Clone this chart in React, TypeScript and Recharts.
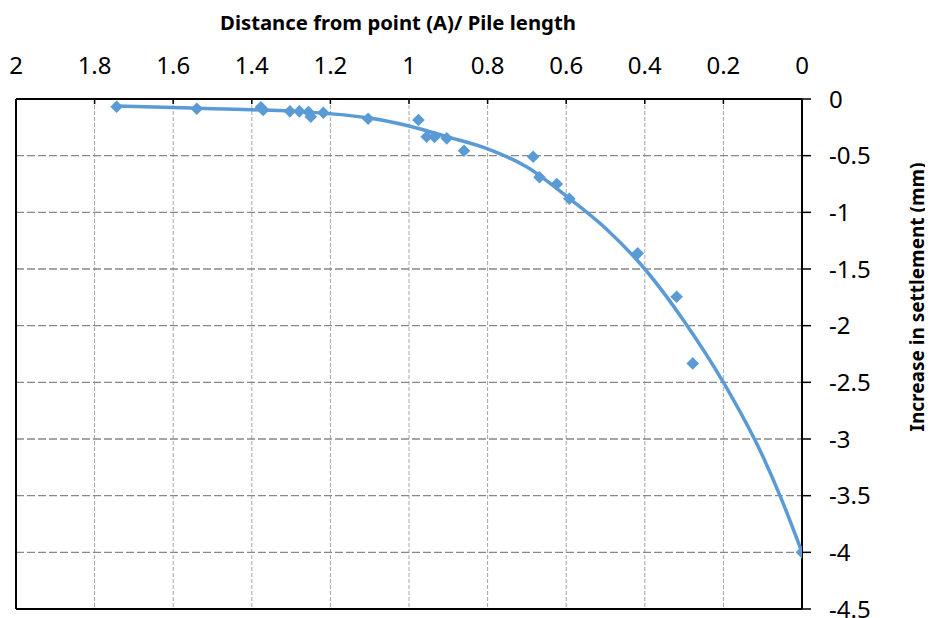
import React from 'react';
import { ComposedChart, XAxis, YAxis, CartesianGrid, Scatter, ReferenceLine } from 'recharts';

// Measured points (distance ratio, settlement increase)
const pointX = [1.744, 1.54, 1.377, 1.371, 1.303, 1.279, 1.256, 1.25, 1.218, 1.104, 0.976, 0.955, 0.935, 0.904, 0.86, 0.684, 0.668, 0.624, 0.592, 0.418, 0.319, 0.278, 0];
const pointY = [-0.068, -0.086, -0.073, -0.097, -0.109, -0.109, -0.115, -0.156, -0.121, -0.174, -0.185, -0.333, -0.335, -0.347, -0.456, -0.509, -0.691, -0.75, -0.88, -1.362, -1.745, -2.333, -4.0];

// Trend curve
const curveX = [1.744, 1.6, 1.5, 1.4, 1.3, 1.2, 1.1, 1.0, 0.9, 0.8, 0.7, 0.6, 0.5, 0.4, 0.3, 0.2, 0.1, 0.05, 0];
const curveY = [-0.062, -0.075, -0.085, -0.095, -0.107, -0.13, -0.168, -0.238, -0.336, -0.44, -0.6, -0.855, -1.14, -1.5, -1.96, -2.5, -3.15, -3.55, -4.0];

const xTicks = [0, 0.2, 0.4, 0.6, 0.8, 1, 1.2, 1.4, 1.6, 1.8, 2];
const yTicks = [0, -0.5, -1, -1.5, -2, -2.5, -3, -3.5, -4, -4.5];

const xTitle = 'Distance from point (A)/ Pile length';
const yTitle = 'Increase in settlement (mm)';

const points = pointX.map((x, i) => ({ x, y: pointY[i] }));
const curve = curveX.map((x, i) => ({ x, y: curveY[i] }));

const BLUE = '#5B9BD5';
const FONT = '"Noto Sans", sans-serif';

const Diamond = (props: any) => {
  const { cx, cy } = props;
  if (cx == null || cy == null) return <g />;
  const r = 6.3;
  return <polygon points={`${cx},${cy - r} ${cx + r},${cy} ${cx},${cy + r} ${cx - r},${cy}`} fill={BLUE} />;
};

const NoShape = () => <g />;

const TopTick = (props: any) => {
  const { x, y, payload } = props;
  return (
    <g>
      <line x1={x} x2={x} y1={y} y2={y + 5} stroke="#000" strokeWidth={1.5} />
      <text x={x} y={y - 25.5} textAnchor="middle" fontFamily={FONT} fontSize={24} fill="#000">
        {String(payload.value)}
      </text>
    </g>
  );
};

const TitleLabel = () => (
  <text x={390} y={21.8} textAnchor="middle" fontFamily={FONT} fontSize={20.3} fontWeight="bold" fill="#000">
    {xTitle}
  </text>
);

const YTitleLabel = () => (
  <text x={0} y={0} textAnchor="middle" dominantBaseline="central" fontFamily={FONT} fontSize={19} fontWeight="bold" fill="#000"
    transform="translate(909,289) rotate(-90)">
    {yTitle}
  </text>
);

export default function App() {
  return (
    <ComposedChart width={925} height={610} margin={{ top: 0, right: 0, bottom: 9, left: 8 }}>
      <CartesianGrid horizontal={false} vertical={true} stroke="#a6a6a6" strokeDasharray="4 2" />
      <CartesianGrid horizontal={true} vertical={false} stroke="#888888" strokeWidth={1.3} strokeDasharray="8 3" />
      <XAxis
        type="number"
        dataKey="x"
        orientation="top"
        reversed
        domain={[0, 2]}
        ticks={xTicks}
        height={91}
        tickSize={0}
        tickMargin={0}
        tickLine={false}
        axisLine={{ stroke: '#000', strokeWidth: 2 }}
        tick={<TopTick />}
        interval={0}
        allowDataOverflow
        label={<TitleLabel />}
      />
      <YAxis
        type="number"
        dataKey="y"
        orientation="right"
        domain={[-4.5, 0]}
        ticks={yTicks}
        width={131}
        tickSize={9}
        tickMargin={18}
        tickLine={{ stroke: '#000', strokeWidth: 1.5 }}
        axisLine={{ stroke: '#000', strokeWidth: 2 }}
        tick={{ fontFamily: FONT, fontSize: 24, fill: '#000', textAnchor: 'start' }}
        interval={0}
        allowDataOverflow
        label={<YTitleLabel />}
      />
      <ReferenceLine x={2} stroke="#000" strokeWidth={2} />
      <ReferenceLine y={-4.5} stroke="#000" strokeWidth={2} />
      <Scatter
        data={curve}
        line={{ stroke: BLUE, strokeWidth: 3.5 }}
        lineJointType="monotoneX"
        shape={<NoShape />}
        isAnimationActive={false}
      />
      <Scatter data={points} shape={<Diamond />} isAnimationActive={false} />
    </ComposedChart>
  );
}
